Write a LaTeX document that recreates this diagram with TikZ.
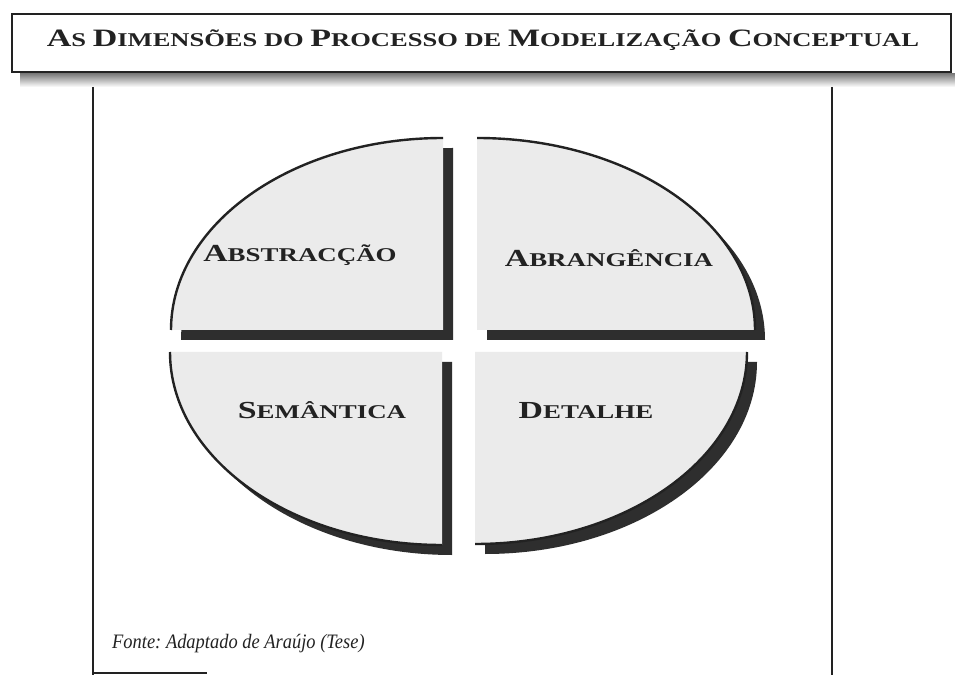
\documentclass[tikz,border=0pt]{standalone}
\usepackage{fontspec}
\setmainfont{Liberation Serif}
\newfontfamily\labfont[FakeStretch=1.38]{Liberation Serif}
\newfontfamily\titfont[FakeStretch=1.36]{Liberation Serif}
\newfontfamily\srcfont[FakeStretch=0.9]{Liberation Serif}
\newcommand\LbA[1]{{\fontsize{24.5}{25}\selectfont #1}}
\newcommand\LbB[1]{{\fontsize{19.5}{20}\selectfont #1}}
\newcommand\TtA[1]{{\fontsize{25}{25}\selectfont #1}}
\newcommand\TtB[1]{{\fontsize{19.5}{20}\selectfont #1}}
\definecolor{quadfill}{HTML}{EBEBEB}
\definecolor{shade}{HTML}{2E2E2E}
\definecolor{ink}{HTML}{222222}
\tikzset{
  x=1pt, y=1pt,
  shadowpart/.style={fill=shade, draw=none},
  quadpart/.style={fill=quadfill, draw=none},
  rim/.style={draw=ink, line width=2.4pt},
  framel/.style={draw=ink, line width=1.8pt},
  quadlabel/.style={inner sep=0pt, anchor=base, text=ink, font=\labfont\bfseries\fontsize{19.5}{20}\selectfont},
}
\begin{document}
\begin{tikzpicture}
\clip (0,0) rectangle (955,675);
\fill[white] (0,0) rectangle (955,675);
% title box
\fill[shade] (20,588) rectangle (960,601);
\draw[framel, line width=2.2pt, fill=white] (12,603) rectangle (951,661);
\node[inner sep=0pt, anchor=base, text=ink, font=\titfont\bfseries\fontsize{19.5}{20}\selectfont] (title) at (483,628)
  {\TtA{A}\TtB{S} \TtA{D}\TtB{IMENSÕES} \TtB{DO} \TtA{P}\TtB{ROCESSO} \TtB{DE} \TtA{M}\TtB{ODELIZAÇÃO} \TtA{C}\TtB{ONCEPTUAL}};
% frame
\draw[framel] (93,588) -- (93,0);
\draw[framel] (832,588) -- (832,0);
\draw[framel] (93,2) -- (207,2);
% quadrant shapes: shadows
\fill[shadowpart] (453,335) -- ++(-272,0) arc[start angle=180,end angle=90,x radius=272,y radius=192] -- cycle;
\fill[shadowpart] (487,335) -- ++(278,0) arc[start angle=0,end angle=90,x radius=278,y radius=192] -- cycle;
\fill[shadowpart] (452,313) -- ++(-272,0) arc[start angle=180,end angle=270,x radius=272,y radius=193] -- cycle;
\fill[shadowpart] (485,313) -- ++(272,0) arc[start angle=0,end angle=-90,x radius=272,y radius=192] -- cycle;
% quadrant fills
\fill[quadpart] (443,345) -- ++(-272,0) arc[start angle=180,end angle=90,x radius=272,y radius=192] -- cycle;
\fill[quadpart] (477,345) -- ++(278,0) arc[start angle=0,end angle=90,x radius=278,y radius=192] -- cycle;
\fill[quadpart] (442,323) -- ++(-272,0) arc[start angle=180,end angle=270,x radius=272,y radius=193] -- cycle;
\fill[quadpart] (475,323) -- ++(272,0) arc[start angle=0,end angle=-90,x radius=272,y radius=192] -- cycle;
% rims
\draw[rim] (171,345) arc[start angle=180,end angle=90,x radius=272,y radius=192];
\draw[rim] (755,345) arc[start angle=0,end angle=90,x radius=278,y radius=192];
\draw[rim] (170,323) arc[start angle=180,end angle=270,x radius=272,y radius=193];
\draw[rim] (747,323) arc[start angle=0,end angle=-90,x radius=272,y radius=192];
% labels
\node[quadlabel] (abs) at (300,413) {\LbA{A}\LbB{BSTRACÇÃO}};
\node[quadlabel] (abr) at (609,408) {\LbA{A}\LbB{BRANGÊNCIA}};
\node[quadlabel] (sem) at (322,256) {\LbA{S}\LbB{EMÂNTICA}};
\node[quadlabel] (det) at (586,256) {\LbA{D}\LbB{ETALHE}};
% source
\node[inner sep=0pt, anchor=base west, text=ink, font=\srcfont\itshape\fontsize{20.5}{22}\selectfont] (src) at (112,27) {\frenchspacing Fonte: Adaptado de Araújo (Tese)};
\end{tikzpicture}
\end{document}
